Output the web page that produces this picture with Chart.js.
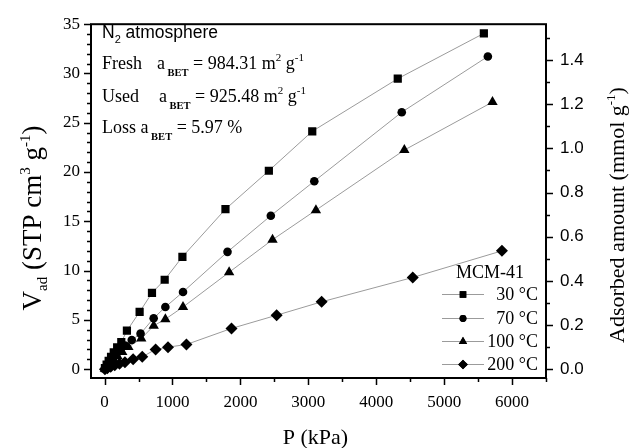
<!DOCTYPE html>
<html>
<head>
<meta charset="utf-8">
<script src="https://cdn.jsdelivr.net/npm/chart.js@4/dist/chart.umd.min.js"></script>
<style>
html,body{margin:0;padding:0;background:#fff;}
canvas{display:block;}
</style>
</head>
<body>
<canvas id="c" width="632" height="448"></canvas>
<script>
// ---- data (P in kPa, V_ad in STP cm3 g-1) ----
const seriesLabels = ['30 °C', '70 °C', '100 °C', '200 °C'];
const p30  = [5, 30, 60, 95, 135, 185, 246, 329, 516, 698, 885, 1146, 1780, 2419, 3058, 4317, 5585];
const v30  = [0.1, 0.45, 0.85, 1.25, 1.7, 2.2, 2.73, 3.9, 5.8, 7.73, 9.07, 11.4, 16.23, 20.13, 24.13, 29.47, 34.07];
const p70  = [5, 35, 75, 120, 170, 230, 300, 400, 530, 723, 895, 1155, 1810, 2448, 3088, 4376, 5644];
const v70  = [0.05, 0.3, 0.65, 1.0, 1.45, 1.9, 2.4, 2.95, 3.6, 5.17, 6.3, 7.83, 11.9, 15.57, 19.07, 26.07, 31.73];
const p100 = [5, 35, 80, 130, 190, 260, 350, 540, 723, 895, 1155, 1834, 2473, 3112, 4414, 5712];
const v100 = [0.05, 0.25, 0.55, 0.9, 1.3, 1.75, 2.25, 3.1, 4.4, 5.07, 6.3, 9.83, 13.13, 16.13, 22.23, 27.1];
const p200 = [5, 40, 90, 150, 220, 300, 420, 555, 752, 934, 1205, 1869, 2533, 3196, 4538, 5851];
const v200 = [0.0, 0.1, 0.25, 0.4, 0.55, 0.7, 1.0, 1.25, 2.0, 2.23, 2.5, 4.13, 5.47, 6.83, 9.3, 12.0];
const xMajor = [0, 1000, 2000, 3000, 4000, 5000, 6000];
const xMinor = [500, 1500, 2500, 3500, 4500, 5500, 6500];
const yMajor = [0, 5, 10, 15, 20, 25, 30, 35];
const yMinor = [1,2,3,4,6,7,8,9,11,12,13,14,16,17,18,19,21,22,23,24,26,27,28,29,31,32,33,34];
const y2Major = [0.0, 0.2, 0.4, 0.6, 0.8, 1.0, 1.2, 1.4];
const y2Minor = [0.1, 0.3, 0.5, 0.7, 0.9, 1.1, 1.3, 1.5];
const molarVolume = 22.4; // cm3(STP) per mmol
const yMin = -0.9, yMax = 35, xMin = -200, xMax = 6500;

const pointStyles = ['rect', 'circle', 'triangle', 'rectRot'];
const pointRadii = [5.8, 4.3, 6.0, 6.0];
const lineColor = '#9b9b9b';
const SERIF = '"Liberation Serif", "Times New Roman", serif';
const SANS = '"Liberation Sans", Arial, sans-serif';

function pts(xs, ys){ return xs.map((x,i)=>({x, y: ys[i]})); }
const allP = [p30, p70, p100, p200], allV = [v30, v70, v100, v200];

const datasets = seriesLabels.map((lab, i) => ({
  label: lab,
  data: pts(allP[i], allV[i]),
  showLine: true,
  borderColor: lineColor,
  borderWidth: 1,
  pointStyle: pointStyles[i],
  pointRadius: pointRadii[i],
  pointBackgroundColor: '#000',
  pointBorderColor: '#000',
  pointBorderWidth: 0,
  tension: 0
}));

function rich(ctx, x, y, segs){
  let cx = x;
  for (const [t, f, dy] of segs){ ctx.font = f; ctx.fillText(t, cx, y + dy); cx += ctx.measureText(t).width; }
  return cx - x;
}
function richWidth(ctx, segs){
  let w = 0; for (const [t,f] of segs){ ctx.font = f; w += ctx.measureText(t).width; } return w;
}

const decor = {
  id: 'decor',
  afterDraw(chart){
    const ctx = chart.ctx, a = chart.chartArea;
    const sx = chart.scales.x, sy = chart.scales.y, sy2 = chart.scales.y2;
    ctx.save();
    ctx.strokeStyle = '#000'; ctx.fillStyle = '#000';
    // frame
    ctx.lineWidth = 2;
    ctx.strokeRect(a.left, a.top, a.right - a.left, a.bottom - a.top);
    // ticks
    ctx.lineWidth = 1.5;
    ctx.beginPath();
    xMajor.forEach(v => { const p = Math.round(sx.getPixelForValue(v)) + 0.5; ctx.moveTo(p, a.bottom); ctx.lineTo(p, a.bottom + 7); });
    xMinor.forEach(v => { const p = Math.round(sx.getPixelForValue(v)) + 0.5; ctx.moveTo(p, a.bottom); ctx.lineTo(p, a.bottom + 4); });
    yMajor.forEach(v => { const p = Math.round(sy.getPixelForValue(v)) + 0.5; ctx.moveTo(a.left, p); ctx.lineTo(a.left - 7, p); });
    yMinor.forEach(v => { const p = Math.round(sy.getPixelForValue(v)) + 0.5; ctx.moveTo(a.left, p); ctx.lineTo(a.left - 4, p); });
    y2Major.forEach(v => { const p = Math.round(sy2.getPixelForValue(v)) + 0.5; ctx.moveTo(a.right, p); ctx.lineTo(a.right + 7, p); });
    y2Minor.forEach(v => { const p = Math.round(sy2.getPixelForValue(v)) + 0.5; ctx.moveTo(a.right, p); ctx.lineTo(a.right + 4, p); });
    ctx.stroke();

    ctx.textAlign = 'left'; ctx.textBaseline = 'alphabetic';
    const F = (s, fam) => s + 'px ' + fam;
    // x title
    ctx.font = F(22, SERIF); ctx.textAlign = 'center';
    ctx.fillText('P (kPa)', (a.left + a.right) / 2 - 3, 444);
    ctx.textAlign = 'left';
    // left title (rotated)
    const lt = [['V', F(27,SERIF), 0], ['ad', F(15,SERIF), 6], [' (STP cm', F(27,SERIF), 0], ['3', F(15,SERIF), -11], [' g', F(27,SERIF), 0], ['-1', F(15,SERIF), -11], [')', F(27,SERIF), 0]];
    let w = richWidth(ctx, lt);
    ctx.save(); ctx.translate(41, 218); ctx.rotate(-Math.PI/2); rich(ctx, -w/2, 0, lt); ctx.restore();
    // right title
    const rt = [['Adsorbed amount (mmol g', F(22,SERIF), 0], ['-1', F(13,SERIF), -9], [')', F(22,SERIF), 0]];
    w = richWidth(ctx, rt);
    ctx.save(); ctx.translate(624, 215); ctx.rotate(-Math.PI/2); rich(ctx, -w/2, 0, rt); ctx.restore();

    // annotation block
    rich(ctx, 102, 38, [['N', F(17.5,SANS), 0], ['2', F(11,SANS), 5], [' atmosphere', F(17.5,SANS), 0]]);
    const S18 = F(18,SERIF), S11 = 'bold ' + F(10.5,SERIF), S11n = F(11,SERIF);
    rich(ctx, 102, 69, [['Fresh', S18, 0]]);
    rich(ctx, 157, 69, [['a', S18, 0], [' BET', S11, 7], [' = 984.31 m', S18, 0], ['2', S11n, -8], [' g', S18, 0], ['-1', S11n, -8]]);
    rich(ctx, 102, 102, [['Used', S18, 0]]);
    rich(ctx, 159, 102, [['a', S18, 0], [' BET', S11, 7], [' = 925.48 m', S18, 0], ['2', S11n, -8], [' g', S18, 0], ['-1', S11n, -8]]);
    rich(ctx, 102, 133, [['Loss a', S18, 0], [' BET', S11, 7], [' = 5.97 %', S18, 0]]);

    // legend
    ctx.font = F(18, SERIF); ctx.textAlign = 'center';
    ctx.fillText('MCM-41', 490, 278);
    const rows = [294, 318, 341, 364];
    seriesLabels.forEach((lab, i) => {
      const yy = rows[i];
      ctx.strokeStyle = lineColor; ctx.lineWidth = 1;
      ctx.beginPath(); ctx.moveTo(442, yy + 0.5); ctx.lineTo(484, yy + 0.5); ctx.stroke();
      ctx.fillStyle = '#000';
      Chart.helpers.drawPoint(ctx, {pointStyle: pointStyles[i], radius: pointRadii[i] * 0.8, borderWidth: 0, rotation: 0}, 463, yy + 0.5);
      ctx.fill();
      ctx.font = F(18, SERIF); ctx.textAlign = 'right'; ctx.textBaseline = 'middle';
      ctx.fillText(lab, 538, yy + 1);
      ctx.textBaseline = 'alphabetic';
    });
    ctx.restore();
  }
};

new Chart(document.getElementById('c'), {
  type: 'scatter',
  data: { datasets },
  options: {
    responsive: false,
    animation: false,
    events: [],
    layout: { padding: { top: 19, left: 0, right: 0, bottom: 0 }, autoPadding: false },
    plugins: { legend: { display: false }, tooltip: { enabled: false } },
    scales: {
      x: {
        type: 'linear', position: 'bottom', min: xMin, max: xMax,
        afterBuildTicks: s => { s.ticks = xMajor.map(v => ({ value: v })); },
        afterFit: s => { s.height = 70; },
        grid: { display: false, drawTicks: false },
        border: { display: false },
        ticks: { font: { family: SERIF, size: 17 }, color: '#000', padding: 14, maxRotation: 0, autoSkip: false, callback: v => String(v) }
      },
      y: {
        type: 'linear', position: 'left', min: yMin, max: yMax,
        afterBuildTicks: s => { s.ticks = yMajor.map(v => ({ value: v })); },
        afterFit: s => { s.width = 91; },
        grid: { display: false, drawTicks: false },
        border: { display: false },
        ticks: { font: { family: SERIF, size: 17 }, color: '#000', padding: 11, autoSkip: false, callback: v => String(v) }
      },
      y2: {
        type: 'linear', position: 'right', min: yMin / molarVolume, max: yMax / molarVolume,
        afterBuildTicks: s => { s.ticks = y2Major.map(v => ({ value: v })); },
        afterFit: s => { s.width = 86; },
        grid: { display: false, drawTicks: false },
        border: { display: false },
        ticks: { font: { family: SANS, size: 17 }, color: '#000', padding: 14, autoSkip: false, callback: v => v.toFixed(1) }
      }
    }
  },
  plugins: [decor]
});
</script>
</body>
</html>
